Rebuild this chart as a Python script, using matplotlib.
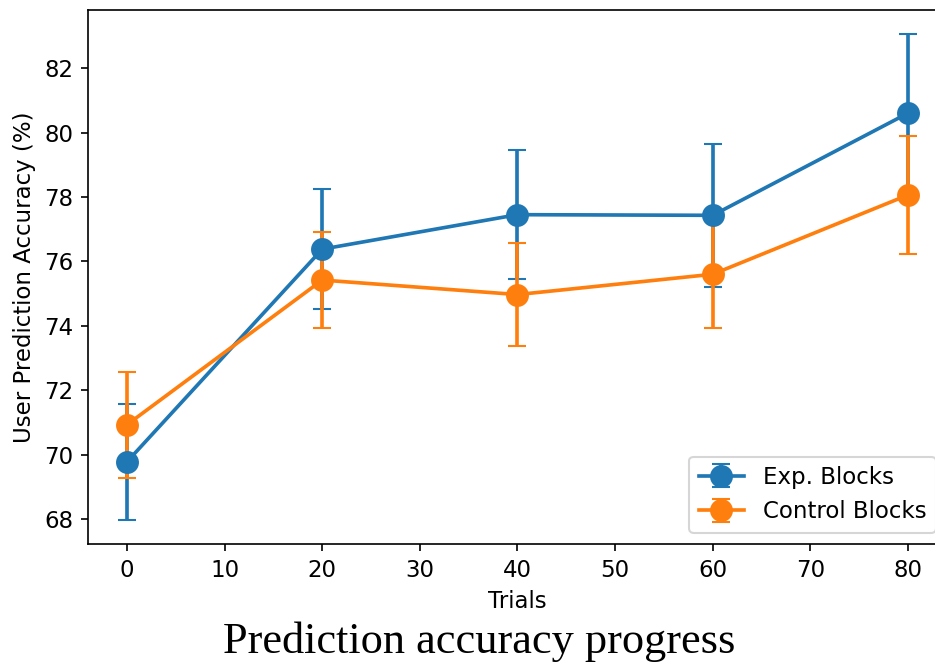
import matplotlib
matplotlib.use("agg")
from matplotlib import pyplot as plt

# data
trials = [0, 20, 40, 60, 80]

exp_mean = [69.78, 76.38, 77.45, 77.43, 80.60]
exp_err = [1.80, 1.86, 2.00, 2.21, 2.45]

ctrl_mean = [70.93, 75.42, 74.97, 75.60, 78.06]
ctrl_err = [1.65, 1.50, 1.60, 1.66, 1.83]

DPI = 150
plt.rcParams["font.size"] = 11
plt.rcParams["lines.linewidth"] = 1.75

fig = plt.figure(figsize=(935 / DPI, 663 / DPI), dpi=DPI)
# right spine falls just past the image edge in the reference
ax = fig.add_axes([0.0941, 0.1795, 0.9187, 0.8054])

ax.errorbar(trials, exp_mean, yerr=exp_err, fmt="-o", color="tab:blue",
            markersize=10, capsize=4.4, label="Exp. Blocks")
ax.errorbar(trials, ctrl_mean, yerr=ctrl_err, fmt="-o", color="tab:orange",
            markersize=10, capsize=4.4, label="Control Blocks")

ax.set_xticks(range(0, 81, 10))
ax.set_xlabel("Trials")
ax.set_ylabel("User Prediction Accuracy (%)")
ax.legend(loc="lower right")

# caption below the plot
fig.text(0.513, 0.002, "Prediction accuracy progress", ha="center", va="bottom",
         family="Liberation Serif", fontsize=21.3)

fig.savefig("out.png", dpi=DPI)
